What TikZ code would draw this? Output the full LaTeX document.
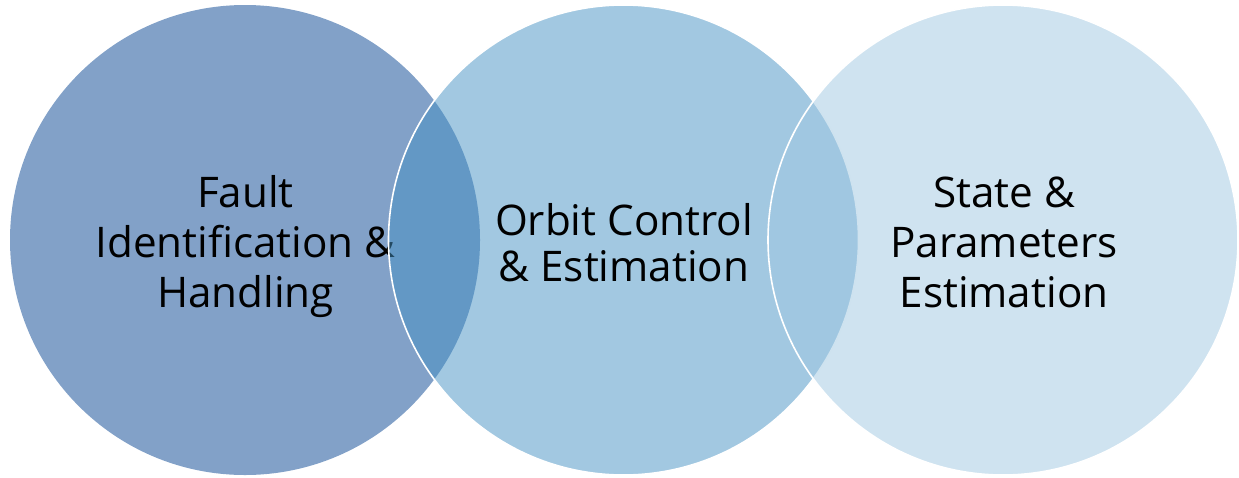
\documentclass[tikz,border=0pt]{standalone}
\usepackage{fontspec}
\setmainfont{Open Sans}
\definecolor{leftc}{RGB}{130,161,200}
\definecolor{midc}{RGB}{69,145,195}
\definecolor{rightc}{RGB}{159,199,225}
\begin{document}
\begin{tikzpicture}[x=1pt,y=-1pt,
  lbl/.style={anchor=base,inner sep=0pt,font=\fontsize{42.2}{50}\selectfont,text=black},
  ring/.style={draw=white,line width=1.6pt}]
\useasboundingbox (0,0) rectangle (1239,477);
% left circle
\fill[leftc] (245,240) circle[radius=235];
\node[lbl] (l1) at (245.5,207) {Fault};
\node[lbl] (l2) at (245.5,257) {Identification \&};
\node[lbl] (l3) at (245.5,307.5) {Handling};
% middle circle
\fill[midc,fill opacity=0.5] (623.5,240) circle[radius=235];
\draw[ring] (623.5,240) circle[radius=235];
\node[lbl] (m1) at (624,235) {Orbit Control};
\node[lbl] (m2) at (624,281.5) {\& Estimation};
% right circle
\fill[rightc,fill opacity=0.5] (1003,240) circle[radius=235];
\draw[ring] (1003,240) circle[radius=235];
\node[lbl] (r1) at (1004,207) {State \&};
\node[lbl] (r2) at (1004,257) {Parameters};
\node[lbl] (r3) at (1004,307) {Estimation};
\end{tikzpicture}
\end{document}
